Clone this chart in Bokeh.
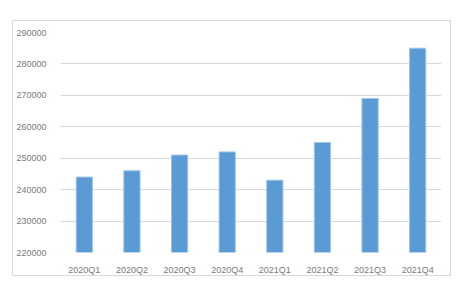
from bokeh.plotting import figure
from bokeh.models import ColumnDataSource, FixedTicker, BasicTickFormatter, Range1d
from bokeh.embed import file_html
from bokeh.resources import INLINE

quarters = ["2020Q1", "2020Q2", "2020Q3", "2020Q4", "2021Q1", "2021Q2", "2021Q3", "2021Q4"]
values = [244000, 246000, 251000, 252000, 243000, 255000, 269000, 285000]
y_ticks = [220000, 230000, 240000, 250000, 260000, 270000, 280000, 290000]

src = ColumnDataSource(dict(q=quarters, v=values, b=[220000] * len(values)))

p = figure(x_range=quarters, y_range=Range1d(220000, 290000), width=439, height=256,
           output_backend="svg", toolbar_location=None,
           min_border_left=44, min_border_right=11, min_border_top=11, min_border_bottom=21)
p.margin = (20, 19, 11, 12)
p.styles = {"border": "1px solid #d9d9d9"}
p.outline_line_color = None
p.background_fill_color = "white"
p.border_fill_color = "white"

p.vbar(x="q", top="v", bottom="b", width=0.34, source=src,
       fill_color="#5b9bd5", line_color="#9dc3e6", line_width=1)

p.yaxis.ticker = FixedTicker(ticks=y_ticks)
p.yaxis.formatter = BasicTickFormatter(use_scientific=False)
for ax in (p.xaxis[0], p.yaxis[0]):
    ax.axis_line_color = None
    ax.major_tick_line_color = None
    ax.minor_tick_line_color = None
    ax.major_label_text_color = "#7a7a7a"
    ax.major_label_text_font = "Liberation Sans"
    ax.major_label_text_font_size = "9px"
p.yaxis.major_label_standoff = 8
p.xaxis.major_label_standoff = 6
p.xgrid.grid_line_color = None
p.ygrid.grid_line_color = "#d9d9d9"
p.ygrid.grid_line_width = 1

open("out.html", "w").write(file_html(p, INLINE))
